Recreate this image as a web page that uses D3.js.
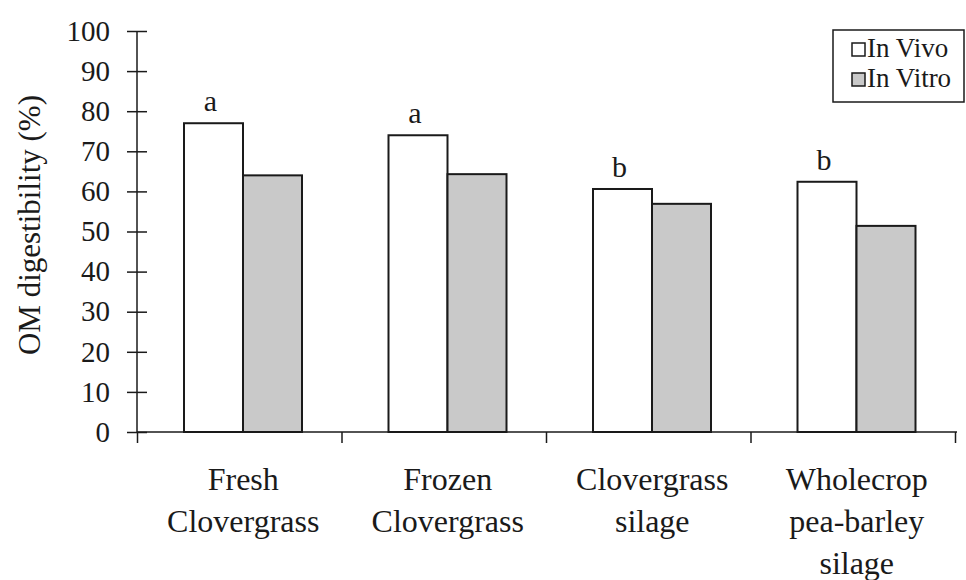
<!DOCTYPE html>
<html>
<head>
<meta charset="utf-8">
<script src="https://cdn.jsdelivr.net/npm/d3@7"></script>
<style>
  body { margin: 0; background: #fff; }
  text { font-family: "Liberation Serif", "Times New Roman", serif; fill: #1a1a1a; }
</style>
</head>
<body>
<div id="chart"></div>
<script>
// data
const categories = ["Fresh Clovergrass", "Frozen Clovergrass", "Clovergrass silage", "Wholecrop pea-barley silage"];
const categoryLines = [["Fresh", "Clovergrass"], ["Frozen", "Clovergrass"], ["Clovergrass", "silage"], ["Wholecrop", "pea-barley", "silage"]];
const series = ["In Vivo", "In Vitro"];
const inVivo = [77, 74, 60.6, 62.4];
const inVitro = [64, 64.3, 56.9, 51.4];
const letters = ["a", "a", "b", "b"];
const yTicks = [0, 10, 20, 30, 40, 50, 60, 70, 80, 90, 100];

const W = 966, H = 580;
const plot = {left: 137, right: 955, top: 31, bottom: 432};

const svg = d3.select("#chart").append("svg")
    .attr("width", W)
    .attr("height", H);

svg.append("rect").attr("width", W).attr("height", H).attr("fill", "#fff");

const y = d3.scaleLinear().domain([0, 100]).range([plot.bottom, plot.top]);
const x0 = d3.scaleBand().domain(categories).range([plot.left, plot.right]).padding(0);
const x1 = d3.scaleBand().domain(series).range([47, 165]).padding(0);
const xEdge = d3.scaleLinear().domain([0, categories.length]).range([plot.left, plot.right]);
const color = d3.scaleOrdinal().domain(series).range(["#ffffff", "#c9c9c9"]);

const rows = categories.map((c, i) => ({cat: c, values: [inVivo[i], inVitro[i]], letter: letters[i], lines: categoryLines[i]}));

// bars
const groups = svg.selectAll(".group")
    .data(rows)
  .enter().append("g")
    .attr("class", "group")
    .attr("transform", d => `translate(${x0(d.cat)},0)`);

groups.selectAll("rect")
    .data(d => series.map((s, j) => ({s, v: d.values[j]})))
  .enter().append("rect")
    .attr("x", d => x1(d.s))
    .attr("y", d => y(d.v))
    .attr("width", x1.bandwidth())
    .attr("height", d => y(0) - y(d.v))
    .attr("fill", d => color(d.s))
    .attr("stroke", "#1a1a1a")
    .attr("stroke-width", 2);

// significance letters over the in vivo bar
groups.append("text")
    .attr("x", x1("In Vivo") + x1.bandwidth() / 2 - 3)
    .attr("y", d => y(d.values[0]) - 12)
    .attr("text-anchor", "middle")
    .style("font-size", "30px")
    .text(d => d.letter);

// x axis with ticks at group boundaries
const xAxis = svg.append("g")
    .attr("transform", `translate(0,${plot.bottom})`)
    .call(d3.axisBottom(xEdge).tickValues(d3.range(0, categories.length + 1)).tickFormat("").tickSize(11).tickSizeOuter(0));
xAxis.select(".domain").attr("d", `M${plot.left},0H${plot.right + 2}`);
xAxis.selectAll("path, line").attr("stroke", "#1a1a1a").attr("stroke-width", 1.5);

// category labels
const labels = svg.selectAll(".cat-label")
    .data(rows)
  .enter().append("text")
    .attr("class", "cat-label")
    .attr("text-anchor", "middle")
    .style("font-size", "32px");

labels.selectAll("tspan")
    .data(d => d.lines.map(l => ({l, x: x0(d.cat) + x0.bandwidth() / 2 + 4})))
  .enter().append("tspan")
    .attr("x", d => d.x)
    .attr("y", (d, i) => 490 + i * 42)
    .text(d => d.l);

// y axis, ticks cross the line
const yAxis = svg.append("g")
    .attr("transform", `translate(${plot.left},0)`)
    .call(d3.axisLeft(y).tickValues(yTicks).tickSize(10).tickPadding(17).tickSizeOuter(0));
yAxis.select(".domain").attr("d", `M0,${plot.top}V${plot.bottom}`);
yAxis.selectAll(".tick line").attr("x1", 10);
yAxis.selectAll("path, line").attr("stroke", "#1a1a1a").attr("stroke-width", 1.5);
yAxis.selectAll(".tick text")
    .attr("fill", "#1a1a1a")
    .style("font-family", "'Liberation Serif', serif")
    .style("font-size", "29px");

svg.append("text")
    .attr("transform", "translate(40,225) rotate(-90)")
    .attr("text-anchor", "middle")
    .style("font-size", "31px")
    .text("OM digestibility (%)");

// legend
const legend = svg.append("g");
legend.append("rect")
    .attr("x", 833).attr("y", 30)
    .attr("width", 131).attr("height", 72)
    .attr("fill", "#fff")
    .attr("stroke", "#1a1a1a")
    .attr("stroke-width", 1.5);

const items = legend.selectAll(".item")
    .data(series)
  .enter().append("g")
    .attr("class", "item")
    .attr("transform", (d, i) => `translate(852,${43 + i * 30})`);

items.append("rect")
    .attr("width", 13).attr("height", 13)
    .attr("fill", d => color(d))
    .attr("stroke", "#1a1a1a")
    .attr("stroke-width", 1.5);

items.append("text")
    .attr("x", 15)
    .attr("y", 14)
    .style("font-size", "27px")
    .text(d => d);
</script>
</body>
</html>
